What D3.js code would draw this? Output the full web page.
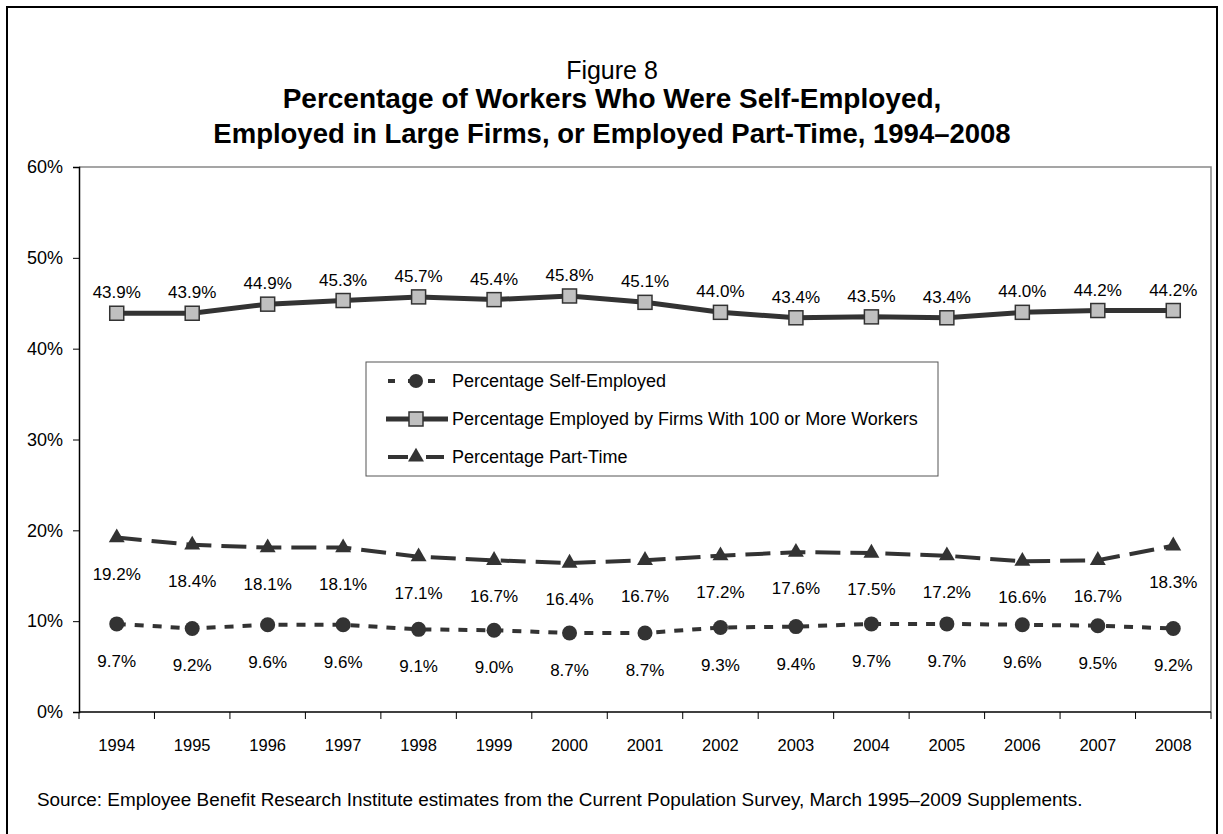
<!DOCTYPE html>
<html>
<head>
<meta charset="utf-8">
<script src="https://cdn.jsdelivr.net/npm/d3@7"></script>
<style>
  html, body { margin: 0; padding: 0; background: #fff; }
  svg { display: block; font-family: "Liberation Sans", Arial, sans-serif; }
</style>
</head>
<body>
<svg id="chart" width="1223" height="834"></svg>
<script>
// Survey years and the three worker shares (percent)
const years = ["1994","1995","1996","1997","1998","1999","2000","2001","2002","2003","2004","2005","2006","2007","2008"];
const selfEmployed = [9.7, 9.2, 9.6, 9.6, 9.1, 9.0, 8.7, 8.7, 9.3, 9.4, 9.7, 9.7, 9.6, 9.5, 9.2];
const largeFirms   = [43.9, 43.9, 44.9, 45.3, 45.7, 45.4, 45.8, 45.1, 44.0, 43.4, 43.5, 43.4, 44.0, 44.2, 44.2];
const partTime     = [19.2, 18.4, 18.1, 18.1, 17.1, 16.7, 16.4, 16.7, 17.2, 17.6, 17.5, 17.2, 16.6, 16.7, 18.3];
const yTicks = [0, 10, 20, 30, 40, 50, 60];

const seriesNames = [
  "Percentage Self-Employed",
  "Percentage Employed by Firms With 100 or More Workers",
  "Percentage Part-Time"
];

const svg = d3.select("#chart");
const ink = "#333333";

// Outer frame
svg.append("rect")
  .attr("x", 7).attr("y", 7).attr("width", 1210).attr("height", 840)
  .attr("fill", "none").attr("stroke", "#000").attr("stroke-width", 2);

// Titles
svg.append("text").attr("x", 612).attr("y", 79).attr("text-anchor", "middle")
  .attr("font-size", 25).text("Figure 8");
svg.append("text").attr("x", 612).attr("y", 108).attr("text-anchor", "middle")
  .attr("font-size", 28).attr("font-weight", "bold")
  .text("Percentage of Workers Who Were Self-Employed,");
svg.append("text").attr("x", 612).attr("y", 143).attr("text-anchor", "middle")
  .attr("font-size", 27.5).attr("font-weight", "bold")
  .text("Employed in Large Firms, or Employed Part-Time, 1994\u20132008");

// Plot area
const plot = { left: 79, right: 1211, top: 167, bottom: 712 };

const x = d3.scaleBand().domain(years).range([plot.left, plot.right]);
const y = d3.scaleLinear().domain([0, 60]).range([plot.bottom, plot.top]);
const cx = d => x(d) + x.bandwidth() / 2;

// Plot-area border (top and right)
svg.append("path")
  .attr("d", `M${plot.left},${plot.top}H${plot.right}V${plot.bottom}`)
  .attr("fill", "none").attr("stroke", "#888").attr("stroke-width", 1.5);

// Y axis
const yAxis = svg.append("g")
  .attr("transform", `translate(${plot.left},0)`)
  .call(d3.axisLeft(y).tickValues(yTicks).tickSize(6).tickPadding(10).tickFormat(d => d + "%"));
yAxis.select(".domain").attr("stroke", "#000").attr("stroke-width", 1.5);
yAxis.selectAll(".tick line").attr("stroke", "#000");
yAxis.selectAll(".tick text").attr("font-size", 18).attr("fill", "#000")
  .attr("font-family", "Liberation Sans, Arial, sans-serif");

// X axis: tick marks sit on category boundaries
const xAxisG = svg.append("g").attr("transform", `translate(0,${plot.bottom})`);
xAxisG.append("line").attr("x1", plot.left).attr("x2", plot.right)
  .attr("stroke", "#000").attr("stroke-width", 1.5);
const boundaries = years.map(d => x(d)).concat([x(years[years.length - 1]) + x.bandwidth()]);
xAxisG.selectAll("line.tk").data(boundaries).join("line").attr("class", "tk")
  .attr("x1", d => d).attr("x2", d => d).attr("y1", 0).attr("y2", 7)
  .attr("stroke", "#000");
xAxisG.selectAll("text").data(years).join("text")
  .attr("x", d => cx(d)).attr("y", 39).attr("text-anchor", "middle")
  .attr("font-size", 16.5).text(d => d);

// Line generator over category centres
const lineGen = d3.line().x((d, i) => cx(years[i])).y(d => y(d));

// Large firms: solid heavy line with grey squares
svg.append("path").datum(largeFirms).attr("d", lineGen)
  .attr("fill", "none").attr("stroke", ink).attr("stroke-width", 5);
svg.append("g").selectAll("rect").data(largeFirms).join("rect")
  .attr("x", (d, i) => cx(years[i]) - 7).attr("y", d => y(d) - 7)
  .attr("width", 14).attr("height", 14)
  .attr("fill", "#c0c0c0").attr("stroke", ink).attr("stroke-width", 1.5);

// Part-time: long dashes with triangles
svg.append("path").datum(partTime).attr("d", lineGen)
  .attr("fill", "none").attr("stroke", ink).attr("stroke-width", 4)
  .attr("stroke-dasharray", "25,10");
const tri = d3.symbol().type(d3.symbolTriangle).size(110);
svg.append("g").selectAll("path").data(partTime).join("path")
  .attr("transform", (d, i) => `translate(${cx(years[i])},${y(d)})`)
  .attr("d", tri).attr("fill", ink);

// Self-employed: short dashes with dots
svg.append("path").datum(selfEmployed).attr("d", lineGen)
  .attr("fill", "none").attr("stroke", ink).attr("stroke-width", 4)
  .attr("stroke-dasharray", "9,9");
svg.append("g").selectAll("circle").data(selfEmployed).join("circle")
  .attr("cx", (d, i) => cx(years[i])).attr("cy", d => y(d)).attr("r", 7.5)
  .attr("fill", ink);

// Value labels
const fmt = d => d.toFixed(1) + "%";
function labels(values, dy) {
  svg.append("g").selectAll("text").data(values).join("text")
    .attr("x", (d, i) => cx(years[i])).attr("y", d => y(d) + dy)
    .attr("text-anchor", "middle").attr("font-size", 17).attr("fill", "#000")
    .text(fmt);
}
labels(largeFirms, -15);
labels(partTime, 42);
labels(selfEmployed, 43);

// Legend
const lg = svg.append("g");
lg.append("rect").attr("x", 366).attr("y", 362).attr("width", 572).attr("height", 114)
  .attr("fill", "#fff").attr("stroke", "#555").attr("stroke-width", 1);
const rowY = [381, 419, 457];
const mx = 416;
// self-employed sample
lg.append("line").attr("x1", 388).attr("x2", 440).attr("y1", rowY[0]).attr("y2", rowY[0])
  .attr("stroke", ink).attr("stroke-width", 4).attr("stroke-dasharray", "7,13");
lg.append("circle").attr("cx", mx).attr("cy", rowY[0]).attr("r", 7).attr("fill", ink);
// large firms sample
lg.append("line").attr("x1", 386).attr("x2", 448).attr("y1", rowY[1]).attr("y2", rowY[1])
  .attr("stroke", ink).attr("stroke-width", 5);
lg.append("rect").attr("x", mx - 7).attr("y", rowY[1] - 7).attr("width", 14).attr("height", 14)
  .attr("fill", "#c0c0c0").attr("stroke", ink).attr("stroke-width", 1.5);
// part-time sample
lg.append("line").attr("x1", 388).attr("x2", 444).attr("y1", rowY[2]).attr("y2", rowY[2])
  .attr("stroke", ink).attr("stroke-width", 4).attr("stroke-dasharray", "20,18,18");
lg.append("path").attr("transform", `translate(${mx},${rowY[2]})`).attr("d", tri).attr("fill", ink);
lg.selectAll("text").data(seriesNames).join("text")
  .attr("x", 452).attr("y", (d, i) => rowY[i] + 6).attr("font-size", 18).text(d => d);

// Source note
svg.append("text").attr("x", 37).attr("y", 806).attr("font-size", 18.9)
  .text("Source: Employee Benefit Research Institute estimates from the Current Population Survey, March 1995\u20132009 Supplements.");
</script>
</body>
</html>
